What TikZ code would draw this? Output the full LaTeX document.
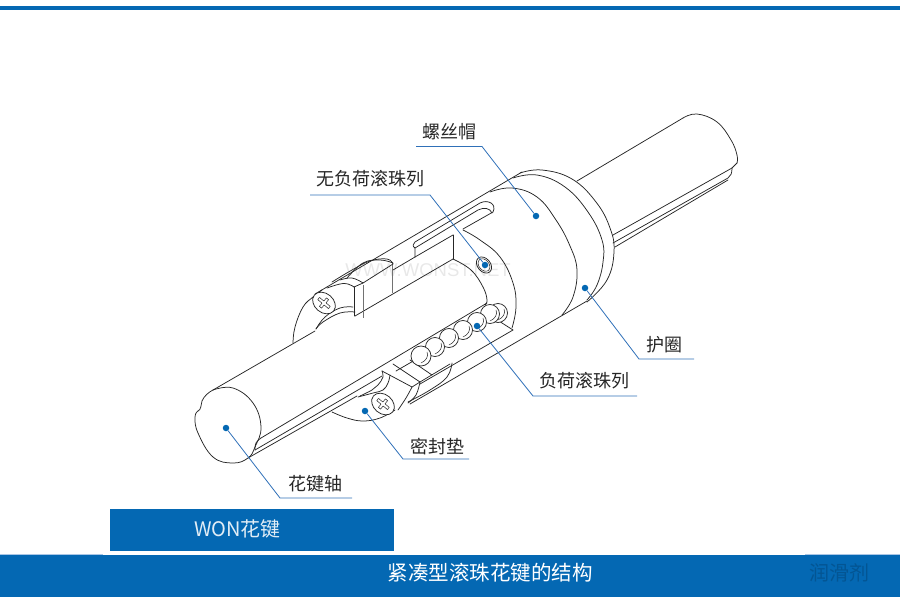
\documentclass[tikz,border=0pt]{standalone}
\usepackage{fontspec}
\setmainfont{Noto Sans CJK SC}
\newfontfamily\latinwm{Liberation Sans}
\definecolor{brandblue}{HTML}{0468B3}
\definecolor{leaderblue}{HTML}{2F70B8}
\definecolor{inkline}{HTML}{262626}
\definecolor{bandedge}{HTML}{A9C6E6}
\tikzset{
  ink/.style={draw=inkline,line width=0.75pt,line join=round,line cap=round},
  softink/.style={draw=inkline!65,line width=0.75pt},
  curve/.style={ink,smooth,tension=0.7},
  partname/.style={text=black!85,font=\fontsize{18}{18}\selectfont,inner sep=0pt},
  leader/.style={draw=leaderblue,line width=0.8pt},
  leaderdot/.style={circle,fill=brandblue,minimum size=6.5pt,inner sep=0pt},
  ball/.style={ink,fill=white},
  screwhead/.pic={
    \draw[ink,fill=white] (0,0) ellipse [x radius=12.5pt,y radius=9.5pt];
    \draw[ink,line width=0.5pt] (-7,-1.4) -- (-1.4,-1.4) -- (-1.4,-5.5) -- (1.4,-5.5) -- (1.4,-1.4) -- (7,-1.4)
      -- (7,1.4) -- (1.4,1.4) -- (1.4,5.5) -- (-1.4,5.5) -- (-1.4,1.4) -- (-7,1.4) -- cycle;
  }
}
\begin{document}
\begin{tikzpicture}[x=1pt,y=-1pt]
\useasboundingbox (0,0) rectangle (900,600);

% header and footer bands
\fill[brandblue] (0,5.5) rectangle (900,10);
\fill[brandblue] (110,509) rectangle (394,551);
\fill[brandblue] (0,555) rectangle (900,597);
\draw[bandedge,line width=1pt] (0,554.5) -- (103,554.5) (805,554.5) -- (900,554.5);
\node[text=black!9,font=\latinwm\fontsize{18.5}{18.5}\selectfont,inner sep=0pt] (mark) at (428,270) {WWW.WONST.NET};

% far end of the shaft
\draw[ink] (577,181) -- (683,118);
\draw[curve] plot coordinates {(683,118) (697,114) (717,122) (731,140) (737,155) (737,163)};
\draw[ink] (737,163) -- (732,168) -- (613,235);
\draw[ink] (732,168) .. controls (732,173) and (731,176) .. (728,178) -- (613,243);
\draw[ink] (728,180) -- (615,247);

% collar and nut body
\draw[ink] (315,294) -- (522,172);
\draw[curve] plot coordinates {(490,192) (512,188) (537,197) (556,220) (570,246) (577,270) (573,297) (562,315)};
\draw[curve] plot coordinates {(513,178) (537,175) (565,187) (588,212) (602,240) (603,262) (597,285) (587,300)};
\draw[curve] plot coordinates {(520,173) (542,170) (572,179) (596,202) (610,228) (614,252) (607,280) (587,302)};
\draw[ink] (587,301) -- (410,404);

% oblong slot on top of the nut
\draw[ink] (415,257) -- (415,248) .. controls (412,246) and (413,244) .. (415,242) -- (480,203)
  .. controls (488,199) and (497,204) .. (493,212);
\draw[ink] (415,248) -- (478,210) .. controls (484,207) and (490,208) .. (492,213);
\draw[ink] (415,257) -- (453,235) (463,229) -- (493,212);

% cut-away opening of the nut
\draw[ink] (453,235) -- (453,259);
\draw[curve] plot coordinates {(463,230) (480,240) (500,257) (513,283) (516,307) (512,328)};
\draw[curve] plot coordinates {(453,259) (471,270) (483,287) (487,300) (485,305)};
\draw[ink] (453,259) -- (355,316);
\draw[softink] (392,265) -- (392,293) (363,285) -- (363,318);
\draw[ink] (354,287) -- (354,316);
\draw[ink] (354,287) -- (363,283) -- (393,264);
\draw[ink] (415,257) -- (393,270);

% top seal and its screw
\draw[curve] plot coordinates {(293,343) (295,327) (303,307) (313,297) (322,290)};
\draw[curve] plot coordinates {(347,278) (363,263) (380,260) (393,263)};
\draw[curve] plot coordinates {(332,282) (352,270) (370,261) (387,259) (393,264)};
\draw[curve] plot coordinates {(327,288) (340,284) (348,284) (354,287)};
\draw[curve] plot coordinates {(340,280) (352,278) (363,283)};
\draw[curve] plot coordinates {(353,307) (340,308) (325,317) (316,329)};
\draw[curve] plot coordinates {(355,312) (340,313) (323,322) (316,329)};
\pic[rotate=-40] at (324,303) {screwhead};

% main shaft and its end face
\draw[ink] (213,390) -- (315,331);
\draw[curve] plot coordinates {(213,390) (233,388) (253,403) (261,427) (255,447) (248,458) (233,463) (213,457) (198,433) (195,417) (198,411)};
\draw[ink] (198,411) .. controls (201,410) and (201,405) .. (202,401) .. controls (204,396) and (209,392) .. (213,390);
\draw[curve] plot coordinates {(261,438) (256,443) (255,450)};
\draw[ink] (255,450) -- (382,376);
\draw[ink] (248,458) -- (357,396);

% lower seal and its screw
\draw[curve] plot coordinates {(332,412) (347,418) (363,421) (380,418) (395,410)};
\draw[curve] plot coordinates {(382,371) (383,377) (378,385) (372,390) (360,396)};
\draw[curve] plot coordinates {(390,375) (388,383) (383,390) (373,393) (358,397)};
\draw[ink] (393,364) -- (420,382) -- (450,364);
\draw[ink] (382,371) -- (412,387) -- (420,382);
\draw[curve] plot coordinates {(420,382) (416,395) (408,403)};
\draw[curve] plot coordinates {(412,387) (406,398) (398,410)};
\draw[curve] plot coordinates {(452,363) (447,377) (430,390) (408,402)};
\pic[rotate=-40] at (383,404) {screwhead};

% ball track and load balls
\draw[ink] (410,360) -- (432,375);
\draw[ink] (513,330) -- (420,384);
\draw[ink] (491,316) -- (513,330);
\draw[ink] (491,316) -- (396,371);
\draw[ball] (498,313) circle [radius=9.5pt];
\draw[ball] (490,314) circle [radius=9.5pt];
\draw[ball] (477,322) circle [radius=9.5pt];
\draw[ball] (463,330) circle [radius=9.5pt];
\draw[ball] (449,338) circle [radius=9.5pt];
\draw[ball] (435,347) circle [radius=9.5pt];
\draw[ball] (421,356) circle [radius=10pt];
\foreach \bx/\by in {498/313,490/314,477/322,463/330,449/338,435/347,421/356}
  \draw[ink,line width=0.5pt] (\bx+6,\by-4) .. controls (\bx+8,\by) and (\bx+5,\by+5) .. (\bx,\by+7);
\draw[ink] (261,438) -- (487,303);

% return-hole plug
\draw[ink,rotate around={-50:(484,265)}] (484,265) ellipse [x radius=9pt,y radius=6.5pt];
\draw[ink,line width=0.5pt,rotate around={-50:(484,265)}] (484,265) ellipse [x radius=7pt,y radius=5pt];

% part names with their leaders
\node[partname] (capname) at (449,132) {螺丝帽};
\node[leaderdot] (capdot) at (536,216) {};
\coordinate (capstart) at (416,146.5);
\coordinate (capknee) at (482,146.5);
\draw[leader] (capstart) -- (capknee) -- (capdot);

\node[partname] (idlename) at (370,179) {无负荷滚珠列};
\node[leaderdot] (idledot) at (485,265) {};
\coordinate (idlestart) at (310,195);
\coordinate (idleknee) at (430,195);
\draw[leader] (idlestart) -- (idleknee) -- (idledot);

\node[partname] (ringname) at (664,345) {护圈};
\node[leaderdot] (ringdot) at (585,288) {};
\coordinate (ringknee) at (639,359);
\coordinate (ringend) at (694,359);
\draw[leader] (ringdot) -- (ringknee) -- (ringend);

\node[partname] (loadname) at (584,381) {负荷滚珠列};
\node[leaderdot] (loaddot) at (477,326) {};
\coordinate (loadknee) at (533,396);
\coordinate (loadend) at (637,396);
\draw[leader] (loaddot) -- (loadknee) -- (loadend);

\node[partname] (sealname) at (437,447) {密封垫};
\node[leaderdot] (sealdot) at (365,411) {};
\coordinate (sealknee) at (403,459);
\coordinate (sealend) at (469,459);
\draw[leader] (sealdot) -- (sealknee) -- (sealend);

\node[partname] (shaftname) at (315,484) {花键轴};
\node[leaderdot] (shaftdot) at (226,428) {};
\coordinate (shaftknee) at (280,498);
\coordinate (shaftend) at (352,498);
\draw[leader] (shaftdot) -- (shaftknee) -- (shaftend);

% band captions
\node[text=white!88!brandblue,font=\fontsize{20}{20}\selectfont,inner sep=0pt] (brand) at (237.5,528.5) {WON花键};
\node[text=white,font=\fontsize{20.5}{20.5}\selectfont,inner sep=0pt] (title) at (490,573) {紧凑型滚珠花键的结构};
\node[text=black!18!brandblue,font=\fontsize{20}{20}\selectfont,inner sep=0pt] (corner) at (839,573) {润滑剂};
\end{tikzpicture}
\end{document}
